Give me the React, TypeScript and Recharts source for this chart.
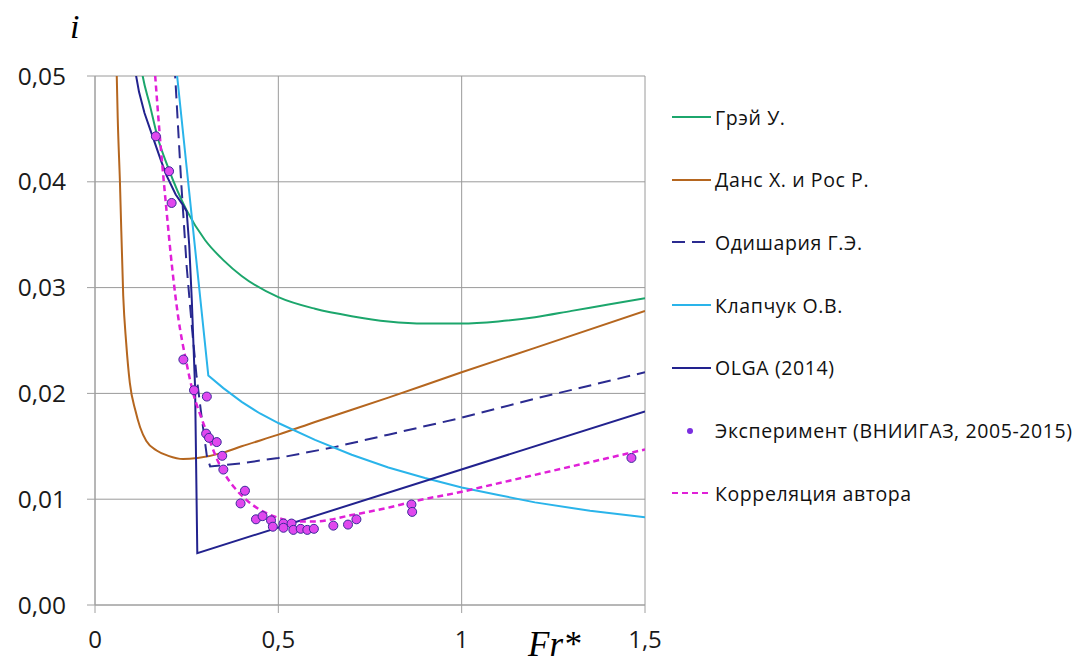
import { ComposedChart, Line, Scatter, XAxis, YAxis, CartesianGrid } from "recharts"

// curves, [Fr*, i]
const GRAY: [number, number][] = [
  [0.125, 0.051], [0.13, 0.05], [0.15, 0.0472], [0.17, 0.0443], [0.2, 0.0413], [0.25, 0.0373],
  [0.3, 0.0345], [0.35, 0.0326], [0.4, 0.0311], [0.5, 0.0291], [0.6, 0.028], [0.7, 0.0273],
  [0.8, 0.0268], [0.9, 0.0266], [1.0, 0.0266], [1.1, 0.0268], [1.2, 0.0272], [1.3, 0.0278],
  [1.4, 0.0284], [1.5, 0.029],
]

const DANS: [number, number][] = [
  [0.058, 0.052], [0.062, 0.046], [0.068, 0.04], [0.077, 0.0292], [0.085, 0.0248], [0.095, 0.021],
  [0.11, 0.0184], [0.123, 0.0168], [0.14, 0.0155], [0.168, 0.0146], [0.2, 0.0141], [0.24, 0.0138],
  [0.28, 0.0139], [0.35, 0.0144], [0.4, 0.015], [0.5, 0.0161], [0.6, 0.0173], [0.8, 0.0196],
  [1.0, 0.022], [1.2, 0.0243], [1.5, 0.0278],
]

const ODISHARIA: [number, number][] = [
  [0.217, 0.051], [0.235, 0.04], [0.25, 0.032], [0.265, 0.026], [0.277, 0.0216], [0.29, 0.018],
  [0.305, 0.0141], [0.314, 0.0131], [0.4, 0.0134], [0.5, 0.0139], [0.65, 0.0149], [0.8, 0.0161],
  [1.0, 0.0177], [1.2, 0.0195], [1.5, 0.022],
]

const KLAPCHUK: [number, number][] = [
  [0.221, 0.051], [0.309, 0.0217], [0.35, 0.0205], [0.4, 0.0192], [0.45, 0.0181], [0.5, 0.0172],
  [0.6, 0.0156], [0.7, 0.0142], [0.8, 0.013], [0.9, 0.012], [1.0, 0.0111], [1.1, 0.0104],
  [1.2, 0.0097], [1.35, 0.0089], [1.5, 0.0083],
]

const OLGA: [number, number][] = [
  [0.107, 0.051], [0.12, 0.0485], [0.135, 0.0465], [0.158, 0.0442], [0.18, 0.042], [0.195, 0.0406],
  [0.22, 0.0388], [0.24, 0.0378], [0.25, 0.0372], [0.257, 0.034], [0.264, 0.0288], [0.273, 0.0205],
  [0.279, 0.0049], [1.5, 0.0183],
]

const CORRELATION: [number, number][] = [
  [0.162, 0.051], [0.18, 0.043], [0.195, 0.0373], [0.21, 0.032], [0.227, 0.0272], [0.25, 0.0228],
  [0.268, 0.02], [0.29, 0.0177], [0.305, 0.0163], [0.33, 0.014], [0.35, 0.0126], [0.38, 0.0111],
  [0.414, 0.0099], [0.45, 0.009], [0.495, 0.0083], [0.55, 0.0079], [0.6, 0.0079], [0.7, 0.0085],
  [0.8, 0.0092], [0.87, 0.0098], [1.0, 0.0107], [1.05, 0.0111], [1.2, 0.0123], [1.35, 0.0135],
  [1.5, 0.0147],
]

const EXPERIMENT: [number, number][] = [
  [0.166, 0.0443], [0.202, 0.041], [0.209, 0.038], [0.241, 0.0232], [0.27, 0.0203], [0.305, 0.0197],
  [0.303, 0.0162], [0.311, 0.0158], [0.332, 0.0154], [0.347, 0.0141], [0.35, 0.0128], [0.409, 0.0108],
  [0.397, 0.0096], [0.439, 0.0081], [0.457, 0.0084], [0.48, 0.008], [0.485, 0.0074], [0.514, 0.0077],
  [0.514, 0.0073], [0.536, 0.0077], [0.541, 0.0071], [0.561, 0.0072], [0.579, 0.0071], [0.597, 0.0072],
  [0.65, 0.0075], [0.69, 0.0076], [0.713, 0.0081], [0.863, 0.0095], [0.865, 0.0088], [1.463, 0.0139],
]

const X_TICKS = [0, 0.5, 1, 1.5]
const Y_TICKS = [0, 0.01, 0.02, 0.03, 0.04, 0.05]

const SERIES = [
  { name: "Грэй У.", pts: GRAY, color: "#1ca66c", dash: undefined, type: "monotone" },
  { name: "Данс Х. и Рос Р.", pts: DANS, color: "#b5661f", dash: undefined, type: "monotone" },
  { name: "Одишария Г.Э.", pts: ODISHARIA, color: "#2b2b90", dash: "13 7", type: "linear" },
  { name: "Клапчук О.В.", pts: KLAPCHUK, color: "#2ab4ea", dash: undefined, type: "linear" },
  { name: "OLGA (2014)", pts: OLGA, color: "#22228e", dash: undefined, type: "linear" },
]

const toPts = (arr: [number, number][]) => arr.map(([x, y]) => ({ x, y }))
const comma = (v: number) => String(v).replace(".", ",")

const FONT = "'Open Sans', sans-serif"
const MAGENTA = "#e020d8"

function Dot(props: any) {
  return <circle cx={props.cx} cy={props.cy} r={4.5} fill="#e048ee" stroke="#3b2a9a" strokeWidth={1} />
}

const legendRows = [
  ...SERIES.map((s) => ({ name: s.name, kind: "line", color: s.color, dash: s.dash })),
  { name: "Эксперимент (ВНИИГАЗ, 2005-2015)", kind: "dot", color: "#7a2ee0", dash: undefined },
  { name: "Корреляция автора", kind: "line", color: MAGENTA, dash: "6 4" },
]

export default function App() {
  return (
    <div style={{ position: "relative", width: 1067, height: 663, marginBottom: -8, overflow: "hidden", background: "#fff" }}>
      <ComposedChart width={1067} height={663} margin={{ top: 68, right: 430, bottom: 0, left: 0 }}>
        <CartesianGrid stroke="#9a9a9a" strokeWidth={1} />
        <XAxis
          type="number"
          dataKey="x"
          domain={[0, 1.5]}
          ticks={X_TICKS}
          allowDataOverflow
          height={66}
          tickSize={8}
          tickMargin={18}
          stroke="#a0a0a0"
          tickFormatter={comma}
          tick={{ fill: "#1a1a1a", fontSize: 24, fontFamily: FONT }}
        />
        <YAxis
          type="number"
          dataKey="y"
          domain={[0, 0.05]}
          ticks={Y_TICKS}
          allowDataOverflow
          width={87}
          tickSize={8}
          tickMargin={21}
          stroke="#a0a0a0"
          tickFormatter={(v: number) => v.toFixed(2).replace(".", ",")}
          tick={{ fill: "#1a1a1a", fontSize: 24.5, fontFamily: FONT }}
        />
        {SERIES.map((s) => (
          <Line
            key={s.name}
            data={toPts(s.pts)}
            dataKey="y"
            type={s.type as any}
            stroke={s.color}
            strokeWidth={2}
            strokeDasharray={s.dash}
            dot={false}
            activeDot={false}
            isAnimationActive={false}
          />
        ))}
        <Line
          data={toPts(CORRELATION)}
          dataKey="y"
          type="monotone"
          stroke={MAGENTA}
          strokeWidth={2.5}
          strokeDasharray="6 4"
          dot={false}
          activeDot={false}
          isAnimationActive={false}
        />
        <Scatter data={toPts(EXPERIMENT)} dataKey="y" shape={Dot} isAnimationActive={false} />
      </ComposedChart>

      <div style={{ position: "absolute", left: 62, top: 0, fontFamily: "'Liberation Serif', serif", fontStyle: "italic", fontSize: 34 }}>
        i
      </div>
      <div style={{ position: "absolute", left: 520, top: 617, lineHeight: "40px", fontFamily: "'Liberation Serif', serif", fontStyle: "italic", fontSize: 35 }}>
        Fr*
      </div>

      {legendRows.map((r, i) => (
        <div
          key={r.name}
          style={{ position: "absolute", left: 662, top: 109 + i * 62.7 - 14, height: 28, display: "flex", alignItems: "center", fontFamily: FONT, fontSize: 19.5, letterSpacing: 0.6, color: "#111" }}
        >
          <svg width={44} height={28}>
            {r.kind === "line" ? (
              <line x1={2} y1={14} x2={41} y2={14} stroke={r.color} strokeWidth={2} strokeDasharray={r.dash} />
            ) : (
              <circle cx={20} cy={14} r={3} fill={r.color} />
            )}
          </svg>
          <span style={{ marginLeft: 1 }}>{r.name}</span>
        </div>
      ))}
    </div>
  )
}
